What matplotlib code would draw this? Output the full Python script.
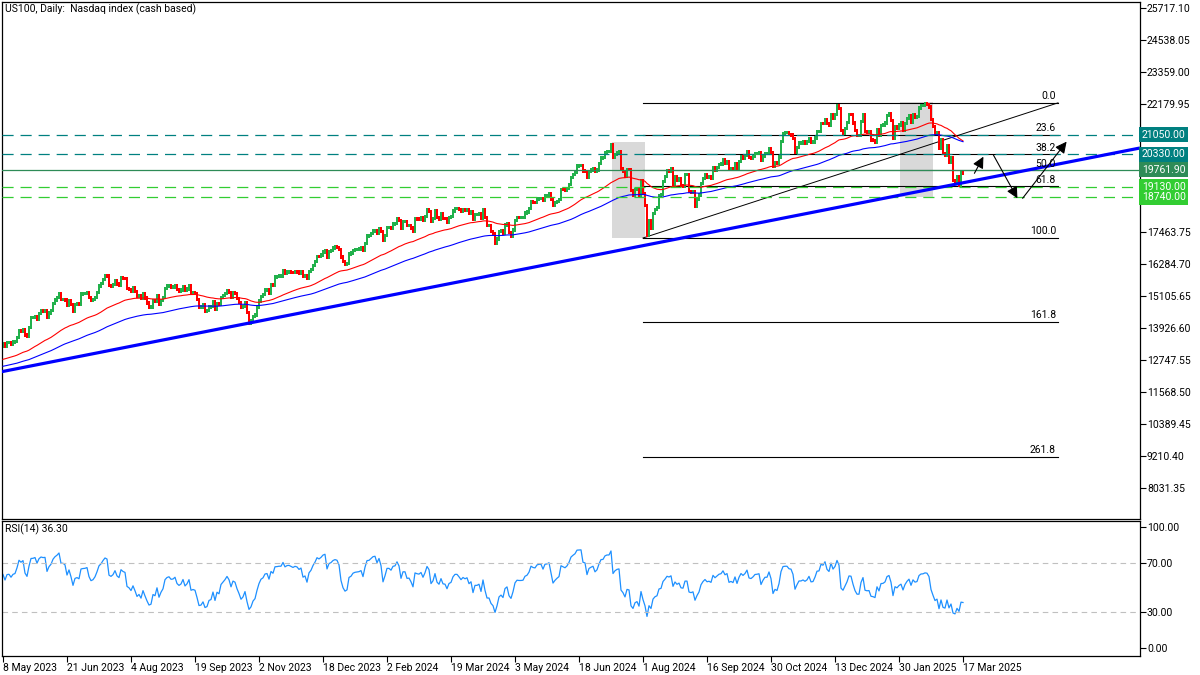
import numpy as np
import pandas as pd
import matplotlib
matplotlib.use("Agg")
import matplotlib.pyplot as plt
from matplotlib.transforms import blended_transform_factory
from matplotlib.patches import Rectangle

plt.rcParams['font.family'] = ['Roboto', 'DejaVu Sans']
plt.rcParams['lines.scale_dashes'] = False

# daily closes US100, month by month
may23 = [13340, 13240, 13380, 13390, 13340, 13410, 13430, 13580, 13840, 13810, 13870, 13670, 13610, 13940, 14300, 14310, 14350, 14250]
jun23 = [14460, 14550, 14540, 14550, 14300, 14480, 14580, 14820, 14960, 15050, 15190, 14990, 14990, 14960, 14750, 14940, 14780, 14550, 14790, 14820, 14790, 15180]
jul23 = [15200, 15210, 15240, 15040, 14940, 14970, 15060, 15230, 15470, 15560, 15720, 15860, 15840, 15490, 15460, 15520, 15670, 15550, 15510, 15800, 15760]
aug23 = [15740, 15390, 15350, 15270, 15400, 15260, 15080, 15130, 15010, 15200, 15030, 14850, 14680, 14700, 14940, 14900, 15120, 14790, 14940, 15050, 15380, 15470, 15500]
sep23 = [15430, 15440, 15500, 15340, 15290, 15330, 15460, 15300, 15360, 15480, 15200, 15220, 15200, 14990, 14690, 14700, 14770, 14550, 14570, 14700, 14720]
oct23 = [14890, 14620, 14830, 14780, 15050, 15130, 15210, 15320, 15240, 15050, 15230, 15200, 15020, 14870, 14670, 14730, 14870, 14500, 14110, 14180, 14340, 14410]
nov23 = [14670, 14920, 15100, 15160, 15330, 15350, 15190, 15530, 15480, 15810, 15820, 15840, 15840, 16030, 15930, 15990, 16000, 15980, 15960, 16000, 15990, 15950]
dec23 = [15990, 15840, 15870, 15760, 16000, 16080, 16240, 16370, 16570, 16550, 16620, 16730, 16770, 16530, 16740, 16780, 16870, 16910, 16900, 16830]
jan24 = [16540, 16370, 16280, 16310, 16650, 16690, 16790, 16820, 16830, 16840, 16870, 16770, 17050, 17320, 17330, 17410, 17500, 17520, 17420, 17600, 17480, 17140]
feb24 = [17340, 17640, 17640, 17600, 17760, 17780, 17960, 17880, 17600, 17850, 17850, 17690, 17700, 17610, 17480, 17960, 17940, 17930, 17990, 17880, 18040]
mar24 = [18300, 18230, 17860, 17960, 18250, 17990, 17920, 18140, 17970, 17960, 17810, 17990, 18030, 18240, 18340, 18340, 18280, 18210, 18280, 18250]
apr24 = [18280, 18150, 18200, 17930, 18120, 18120, 18150, 17970, 18290, 17990, 17710, 17710, 17490, 17390, 17040, 17210, 17470, 17530, 17430, 17720, 17780, 17440]
may24 = [17320, 17540, 17890, 18010, 18000, 18000, 18010, 18160, 18200, 18320, 18590, 18560, 18550, 18680, 18710, 18710, 18620, 18810, 18820, 18870, 18680, 18460, 18540]
jun24 = [18600, 18650, 19040, 19020, 19000, 19070, 19210, 19470, 19570, 19660, 19900, 19910, 19920, 19710, 19700, 19470, 19700, 19750, 19790, 19680]
jul24 = [19750, 19980, 20190, 20200, 20390, 20440, 20440, 20680, 20210, 20330, 20390, 20410, 19800, 19700, 19530, 19780, 19760, 19000, 18830, 19020, 19060, 18800, 19360]
aug24 = [18890, 18440, 17350, 17900, 17600, 18150, 18300, 18360, 18800, 18840, 19330, 19510, 19740, 19700, 19790, 19200, 19500, 19360, 19440, 19170, 19150, 19570]
sep24 = [19570, 18960, 18920, 18960, 18420, 18650, 18830, 19240, 19440, 19570, 19460, 19490, 19440, 19840, 19740, 19840, 19940, 19970, 20130, 20000, 20060]
oct24 = [19760, 19800, 19760, 20000, 19780, 20050, 20240, 20180, 20270, 20440, 20200, 20180, 20250, 20350, 20360, 20380, 20090, 20240, 20350, 20350, 20550, 20380, 19890]
nov24 = [20030, 19990, 20230, 20790, 21100, 21120, 21120, 21050, 21040, 20900, 20400, 20580, 20740, 20740, 20780, 20740, 20790, 20920, 20770, 20780, 20930]
dec24 = [21160, 21170, 21470, 21450, 21620, 21450, 21400, 21800, 21650, 21780, 22130, 22010, 21210, 21110, 21290, 21490, 21800, 21790, 21480, 21190, 21010]
jan25 = [21010, 21530, 21800, 21180, 21150, 21160, 20850, 20830, 20780, 21240, 21040, 21400, 21410, 21480, 21760, 21820, 21560, 20900, 21350, 21290, 21410, 21480]
feb25 = [21200, 21470, 21640, 21760, 21490, 21780, 21680, 21710, 22030, 22120, 22130, 22180, 22170, 22070, 21610, 21350, 21080, 21130, 20550, 20880]
mar25 = [20360, 20300, 20630, 20030, 20200, 19350, 19250, 19500, 19200, 19650, 19620]

closes = np.array(may23 + jun23 + jul23 + aug23 + sep23 + oct23 + nov23 + dec23 +
                  jan24 + feb24 + mar24 + apr24 + may24 + jun24 + jul24 + aug24 +
                  sep24 + oct24 + nov24 + dec24 + jan25 + feb25 + mar25, dtype=float)
first_open = 13250

# broker calendar: weekdays, closed on christmas, new year, good friday 2024
days = pd.bdate_range("2023-05-08", "2025-03-17")
closed = pd.to_datetime(["2023-12-25", "2024-01-01", "2024-03-29", "2024-12-25", "2025-01-01"])
days = days[~days.isin(closed)]
assert len(days) == len(closes)

# indicator start values read from the left edge
ema50_start = 12750
ema100_start = 12500
rsi_gain_start = 55.0
rsi_loss_start = 40.0

# horizontal levels
levels = [21050.00, 20330.00, 19761.90, 19130.00, 18740.00]
level_cols = ['#008080', '#008080', '#2e8b57', '#32cd32', '#32cd32']
level_dash = [True, True, False, True, True]

# fibonacci (Aug 2024 low -> Feb 2025 high)
fib_low, fib_high = 17243, 22222
fib_ratios = [0.0, 23.6, 38.2, 50.0, 61.8, 100.0, 161.8, 261.8]
fib_x0, fib_x1 = 320, 527.5

# main trend line
trend_x = [-1.5, 568.5]
trend_y = [12305, 20559]

# shaded zones (x0, x1, p0, p1)
zones = [(304.5, 321, 17243, 20780), (448.5, 465, 18753, 22254)]

# scenario arrows (start -> tip)
arrows = [((485.7, 19626), (490.2, 20239)),
          ((495.2, 20301), (507.2, 18705)),
          ((509.8, 18705), (531.8, 20793))]

price_ticks = [25717.10 - k * 1179.05 for k in range(16)]


def ema(vals, n, start):
    k = 2.0 / (n + 1)
    e = start
    out = []
    for v in vals:
        e = e + k * (v - e)
        out.append(e)
    return np.array(out)


def rsi14(vals, prev, ag, al):
    out = []
    for v in vals:
        d = v - prev
        ag = (ag * 13 + max(d, 0)) / 14
        al = (al * 13 + max(-d, 0)) / 14
        out.append(100 - 100 / (1 + ag / al))
        prev = v
    return np.array(out)


x = np.arange(len(closes))
opens = np.concatenate([[first_open], closes[:-1]])
ema50 = ema(closes, 50, ema50_start)
ema100 = ema(closes, 100, ema100_start)
rsi = rsi14(closes, first_open, rsi_gain_start, rsi_loss_start)

fig = plt.figure(figsize=(12, 6.75), dpi=100)
ax = fig.add_axes([2 / 1200, 1 - 519 / 675, 1138 / 1200, 517 / 675])
ax2 = fig.add_axes([2 / 1200, 1 - 656 / 675, 1138 / 1200, 135 / 675])

ax.set_xlim(-0.5, 568.5)
ax.set_ylim(6889.3, 25938.2)
ax2.set_xlim(-0.5, 568.5)
ax2.set_ylim(-6.6, 104.96)

# zones
for x0, x1, p0, p1 in zones:
    ax.add_patch(Rectangle((x0, p0), x1 - x0, p1 - p0, facecolor='#d9d9d9', edgecolor='none', zorder=0.5))

# fib lines
rng = fib_high - fib_low
for r in fib_ratios:
    p = fib_high - rng * r / 100
    ax.plot([fib_x0, fib_x1], [p, p], color='black', lw=0.8, zorder=1)
    ax.text(fib_x1 - 1, p + 60, f"{r:.1f}", fontsize=7.5, ha='right', va='bottom', zorder=6)
ax.plot([fib_x0, fib_x1], [fib_low, fib_high], color='black', lw=0.7, zorder=1)

# candles
up = closes >= opens
lo = np.minimum(opens, closes) - 60
hi = np.maximum(opens, closes) + 60
ax.bar(x[up], (hi - lo)[up], bottom=lo[up], width=0.6, color='#22b14c', linewidth=0, zorder=2)
ax.bar(x[~up], (hi - lo)[~up], bottom=lo[~up], width=0.6, color='#ff0000', linewidth=0, zorder=2)

# moving averages
ax.plot(x, ema50, color='#ff0000', lw=0.8, zorder=3)
ax.plot(x, ema100, color='#0000ff', lw=0.8, zorder=3)

# horizontal levels and price boxes
tr = blended_transform_factory(ax.transAxes, ax.transData)
for lv, col, dsh in zip(levels, level_cols, level_dash):
    if dsh:
        ax.axhline(lv, color=col, lw=0.9, dashes=(8, 5), zorder=4)
    else:
        ax.axhline(lv, color=col, lw=0.9, zorder=4)
    ax.text(1.0015, lv, f"{lv:.2f}", transform=tr, fontsize=7.5, color='white', ha='left', va='center',
            bbox=dict(boxstyle='square,pad=0.25', facecolor=col, edgecolor='none'), zorder=10, clip_on=False)

# trend line
ax.plot(trend_x, trend_y, color='#0000ff', lw=2.3, zorder=5, solid_capstyle='butt')

# arrows
for (s, t) in arrows:
    ax.annotate('', xy=t, xytext=s,
                arrowprops=dict(arrowstyle='-|>', color='black', lw=0.8, mutation_scale=17, shrinkA=0, shrinkB=0),
                zorder=7)

ax.text(3 / 1138, 0.997, "US100, Daily:  Nasdaq index (cash based)", transform=ax.transAxes,
        fontsize=7.5, ha='left', va='top')

# tick labels hidden behind the price boxes are left blank
hidden = {4, 5, 6}
ax.set_yticks(price_ticks)
ax.set_yticklabels(["" if k in hidden else f"{p:.2f}" for k, p in enumerate(price_ticks)])
ax.yaxis.tick_right()
ax.tick_params(axis='y', direction='out', length=4, width=0.8, labelsize=7.5, pad=1)
ax.tick_params(axis='x', bottom=False, labelbottom=False)

# RSI panel
ax2.plot(x, rsi, color='#1e90ff', lw=0.9)
for lvl in (70, 30):
    ax2.axhline(lvl, color='#c0c0c0', lw=0.8, dashes=(4, 3))
ax2.text(3 / 1138, 0.985, "RSI(14) 36.30", transform=ax2.transAxes, fontsize=7.5, ha='left', va='top')
ax2.set_yticks([0, 30, 70, 100])
ax2.set_yticklabels(["0.00", "30.00", "70.00", "100.00"])
ax2.yaxis.tick_right()
ax2.tick_params(axis='y', direction='out', length=4, width=0.8, labelsize=7.5, pad=1)

xt = list(range(0, len(days), 32))
ax2.set_xticks(xt)
ax2.set_xticklabels([f"{days[i].day} {days[i]:%b %Y}" for i in xt], fontsize=7.5, ha='left')
ax2.tick_params(axis='x', direction='out', length=4, width=0.8, pad=1)

for a in (ax, ax2):
    for sp in a.spines.values():
        sp.set_linewidth(0.9)
        sp.set_color('black')

fig.savefig("out.png", dpi=100)
